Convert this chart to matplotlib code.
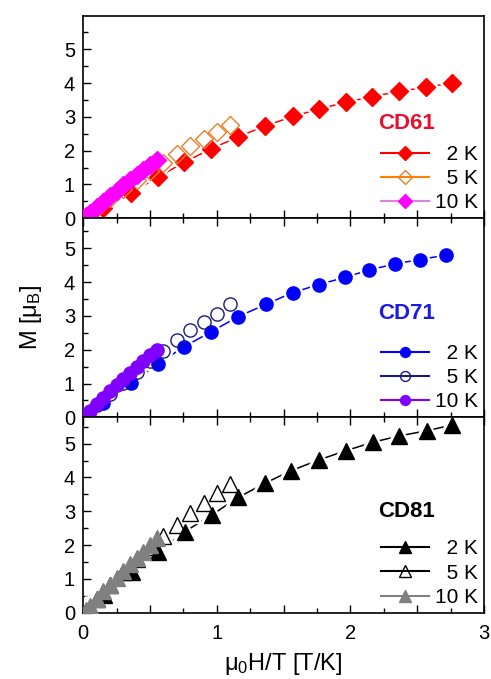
import numpy as np
import matplotlib
matplotlib.use('Agg')
import matplotlib.pyplot as plt
from matplotlib.lines import Line2D
from matplotlib.ticker import MultipleLocator, FuncFormatter

plt.rcParams['font.family'] = ['Liberation Sans', 'DejaVu Sans']
plt.rcParams['mathtext.fontset'] = 'custom'
plt.rcParams['mathtext.rm'] = 'Liberation Sans'

# Magnetisation vs mu0*H/T for three samples at 2, 5 and 10 K
# CD61
x61_2K = [0.150, 0.357, 0.557, 0.756, 0.956, 1.160, 1.362, 1.567, 1.764, 1.964, 2.163, 2.363, 2.565, 2.757]
m61_2K = [0.30, 0.76, 1.21, 1.66, 2.05, 2.41, 2.73, 3.01, 3.23, 3.43, 3.60, 3.75, 3.88, 3.99]
x61_5K = [0.1, 0.2, 0.3, 0.4, 0.5, 0.6, 0.7, 0.8, 0.9, 1.0, 1.1]
m61_5K = [0.30, 0.59, 0.87, 1.14, 1.40, 1.63, 1.90, 2.14, 2.35, 2.56, 2.76]
x61_10K = [0.02, 0.05, 0.10, 0.15, 0.20, 0.25, 0.30, 0.35, 0.40, 0.45, 0.50, 0.55]
m61_10K = [0.07, 0.16, 0.33, 0.49, 0.65, 0.81, 0.97, 1.12, 1.27, 1.43, 1.58, 1.72]

# CD71
x71_2K = [0.150, 0.357, 0.557, 0.756, 0.956, 1.160, 1.365, 1.567, 1.764, 1.958, 2.140, 2.333, 2.520, 2.715]
m71_2K = [0.43, 1.01, 1.58, 2.09, 2.53, 2.98, 3.34, 3.69, 3.93, 4.14, 4.36, 4.54, 4.67, 4.80]
x71_5K = [0.1, 0.2, 0.3, 0.4, 0.5, 0.6, 0.7, 0.8, 0.9, 1.0, 1.1]
m71_5K = [0.35, 0.69, 1.02, 1.35, 1.67, 1.97, 2.29, 2.58, 2.83, 3.06, 3.34]
x71_10K = [0.02, 0.05, 0.10, 0.15, 0.20, 0.25, 0.30, 0.35, 0.40, 0.45, 0.50, 0.55]
m71_10K = [0.08, 0.20, 0.39, 0.58, 0.77, 0.95, 1.13, 1.31, 1.49, 1.66, 1.83, 2.00]

# CD81
x81_2K = [0.155, 0.362, 0.561, 0.761, 0.961, 1.160, 1.360, 1.555, 1.764, 1.964, 2.166, 2.365, 2.570, 2.757]
m81_2K = [0.52, 1.21, 1.80, 2.40, 2.89, 3.41, 3.83, 4.20, 4.52, 4.79, 5.04, 5.23, 5.38, 5.55]
x81_5K = [0.1, 0.2, 0.3, 0.4, 0.5, 0.6, 0.7, 0.8, 0.9, 1.0, 1.1]
m81_5K = [0.41, 0.81, 1.20, 1.58, 1.95, 2.27, 2.59, 2.94, 3.24, 3.53, 3.81]
x81_10K = [0.02, 0.05, 0.10, 0.15, 0.20, 0.25, 0.30, 0.35, 0.40, 0.45, 0.50, 0.55]
m81_10K = [0.08, 0.21, 0.42, 0.63, 0.83, 1.03, 1.23, 1.43, 1.62, 1.81, 2.00, 2.20]

temps = ['\u20072 K', '\u20075 K', '10 K']

panels = [
    dict(name='CD61', title_color='#e8112d', ymax=5.99, title_y=0.470,
         series=[(x61_2K, m61_2K), (x61_5K, m61_5K), (x61_10K, m61_10K)],
         marker='D', ms=9.5,
         face=['#ff0000', 'none', '#ff00ff'],
         edge=['#ff0000', '#e8802a', '#ff00ff'],
         line=['#ff0000', '#ff8000', '#ff00ff'],
         legline=['#ff0000', '#ff8000', '#e080e0']),
    dict(name='CD71', title_color='#1a1ae6', ymax=5.89, title_y=0.524,
         series=[(x71_2K, m71_2K), (x71_5K, m71_5K), (x71_10K, m71_10K)],
         marker='o', ms=9.5,
         face=['#0000ff', 'none', '#8000ff'],
         edge=['#0000ff', '#1a1a80', '#8000ff'],
         line=['#0000ff', '#1a1a80', '#8000ff'],
         legline=['#0000ff', '#1a1a80', '#8000ff']),
    dict(name='CD81', title_color='#000000', ymax=5.78, title_y=0.517,
         series=[(x81_2K, m81_2K), (x81_5K, m81_5K), (x81_10K, m81_10K)],
         marker='^', ms=11,
         face=['#000000', 'none', '#808080'],
         edge=['#000000', '#000000', '#808080'],
         line=['#000000', '#000000', '#808080'],
         legline=['#000000', '#000000', '#808080']),
]

fig = plt.figure(figsize=(4.91, 6.79), dpi=100)
left, width = 83.3 / 491, (484 - 83.3) / 491
# pixel rows of each panel (top, bottom)
rows = [(15.7, 218.3), (218.3, 417.3), (417.3, 612.7)]

axes = []
for i, (p, (top, bot)) in enumerate(zip(panels, rows)):
    ax = fig.add_axes([left, 1 - bot / 679, width, (bot - top) / 679])
    axes.append(ax)
    handles = []
    for k, (xs, ms_) in enumerate(p['series']):
        # connecting line, white halo so the line stops short of each symbol
        ax.plot(xs, ms_, color=p['line'][k], lw=1.1, zorder=2)
        ax.plot(xs, ms_, ls='none', marker=p['marker'], ms=p['ms'],
                mfc='white', mec='white', mew=4.5, zorder=2.5)
        ax.plot(xs, ms_, ls='none', marker=p['marker'], ms=p['ms'],
                mfc=p['face'][k], mec=p['edge'][k], mew=1.0, zorder=3)
        handles.append(Line2D([], [], color=p['legline'][k], lw=1.5,
                              marker=p['marker'], ms=p['ms'] * 0.75,
                              mfc=p['face'][k], mec=p['edge'][k], mew=1.0))
    ax.set_xlim(0, 3)
    ax.set_ylim(0, p['ymax'])
    ax.xaxis.set_major_locator(MultipleLocator(0.5))
    ax.xaxis.set_minor_locator(MultipleLocator(0.25))
    ax.yaxis.set_major_locator(MultipleLocator(1))
    ax.yaxis.set_minor_locator(MultipleLocator(0.5))
    ax.tick_params(which='both', direction='in', top=(i > 0), right=False,
                   width=1.0, labelsize=14.5)
    ax.tick_params(which='major', length=6)
    ax.tick_params(which='minor', length=3.5)
    ax.tick_params(axis='y', pad=6)
    ax.tick_params(axis='x', pad=8)
    for s in ax.spines.values():
        s.set_linewidth(1.2)
    if i < 2:
        ax.tick_params(axis='x', labelbottom=False)
    else:
        ax.xaxis.set_major_formatter(
            FuncFormatter(lambda v, pos: f'{v:.0f}' if abs(v - round(v)) < 1e-6 else ''))
    ax.legend(handles, temps, loc='lower right', bbox_to_anchor=(0.985, 0.03),
              frameon=False, fontsize=15, handlelength=2.3, handletextpad=0.3,
              labelspacing=0.25, borderpad=0, borderaxespad=0)
    ax.text(0.735, p['title_y'], p['name'], transform=ax.transAxes,
            fontsize=16, fontweight='bold', color=p['title_color'],
            ha='left', va='center')

axes[1].set_ylabel(r'M [$\mathregular{\mu_B}$]', fontsize=17, labelpad=14)
axes[2].set_xlabel(r'$\mathregular{\mu_0}$H/T [T/K]', fontsize=17, labelpad=6)

fig.savefig('out.png', dpi=100)
